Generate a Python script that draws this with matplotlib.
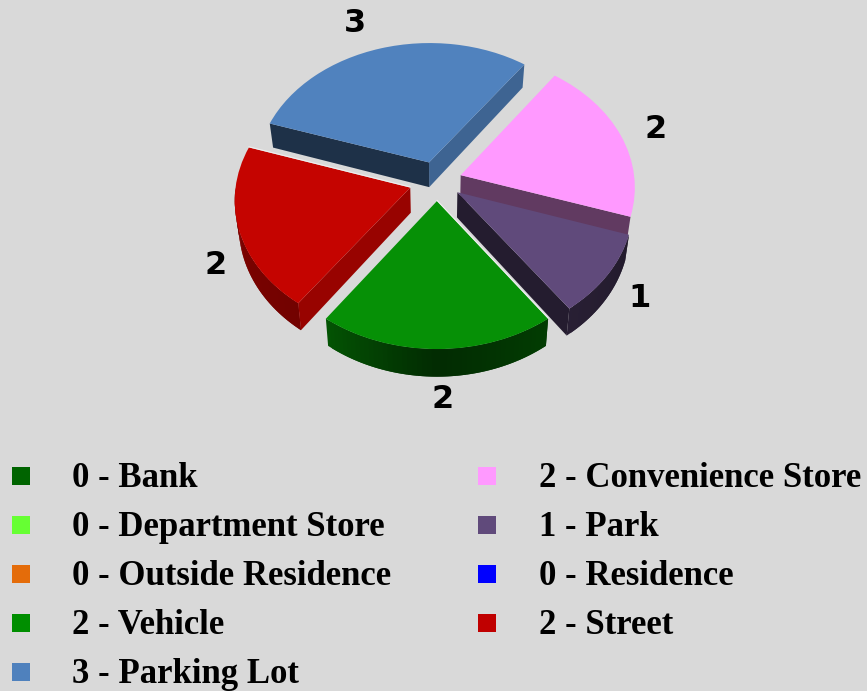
import numpy as np
import matplotlib
matplotlib.use('Agg')
import matplotlib.pyplot as plt
from matplotlib.transforms import Transform

# legend, in reading order
left_names = ['Bank', 'Department Store', 'Outside Residence', 'Vehicle', 'Parking Lot']
left_values = [0, 0, 0, 2, 3]
left_colors = ['#006400', '#66FF33', '#E46C0A', '#008E00', '#4F81BD']
right_names = ['Convenience Store', 'Park', 'Residence', 'Street']
right_values = [2, 1, 0, 2]
right_colors = ['#FF99FF', '#604A7B', '#0000FF', '#C00000']

# slices going counterclockwise from the left edge of the front one
slice_values = [2, 1, 2, 3, 2]
slice_colors = ['#069006', '#604A7B', '#FF99FF', '#5082BE', '#C50400']
draw_order = [3, 4, 2, 1, 0]
slice_explode = [26, 25, 25, 26, 28]

BG = '#D9D9D9'
CX, CY = 437, 181
TILT = 0.76
PERSP = 2095
RADIUS = 174
DEPTH = 25


def project(x, y, z=0):
    k = 1 / (1 + y / PERSP)
    return CX + x * k * (1 - z * 0.0008), CY - TILT * y * k + z * k


class Perspective(Transform):
    input_dims = 2
    output_dims = 2
    is_separable = False
    has_inverse = False

    def transform_non_affine(self, values):
        values = np.asarray(values)
        px, py = project(values[:, 0], values[:, 1])
        return np.column_stack((px, py))


def shade(color, f):
    return tuple(c * f for c in matplotlib.colors.to_rgb(color))


def outer_factor(angle):
    return np.interp(angle % 360, [160, 200, 234, 270, 306, 342, 360],
                     [0.75, 0.62, 0.58, 0.30, 0.42, 0.36, 0.40])


fig = plt.figure(figsize=(8.67, 6.91), dpi=100, facecolor=BG)
ax = fig.add_axes([0, 0, 1, 1])

wedges, _ = ax.pie(slice_values, colors=slice_colors, startangle=234, radius=RADIUS,
                   center=(0, 0), explode=slice_explode, normalize=True)
ax.set_aspect('auto')
ax.set_xlim(0, 867)
ax.set_ylim(691, 0)
ax.axis('off')

persp = Perspective() + ax.transData
STEP = 1.5

for rank, i in enumerate(draw_order):
    w = wedges[i]
    color = slice_colors[i]
    base = 10 + rank * 10
    w.set_transform(persp)
    w.set_zorder(base + 5)
    w.set_linewidth(0)
    x0, y0 = w.center

    # outer rim, cut in short overlapping pieces so that the shade can follow the angle
    for a in np.arange(w.theta1, w.theta2, STEP):
        b = min(a + STEP * 2, w.theta2)
        mid = a + STEP / 2
        if np.sin(np.radians(mid)) >= 0 or mid % 360 > 342:
            continue
        xs = x0 + w.r * np.cos(np.radians([a, b]))
        ys = y0 + w.r * np.sin(np.radians([a, b]))
        p1 = project(xs, ys)
        p2 = project(xs[::-1], ys[::-1], DEPTH)
        c = shade(color, outer_factor(mid))
        ax.fill(np.r_[p1[0], p2[0]], np.r_[p1[1], p2[1]], color=c, lw=0, zorder=base + 1)

    # the two cut faces
    for theta, normal in ((w.theta1, w.theta1 - 90), (w.theta2, w.theta2 + 90)):
        if np.sin(np.radians(normal)) >= 0:
            continue
        f = 0.77 if np.cos(np.radians(normal)) > 0 else 0.38
        xs = np.array([x0, x0 + w.r * np.cos(np.radians(theta))])
        ys = np.array([y0, y0 + w.r * np.sin(np.radians(theta))])
        p1 = project(xs, ys)
        p2 = project(xs[::-1], ys[::-1], DEPTH)
        ax.fill(np.r_[p1[0], p2[0]], np.r_[p1[1], p2[1]], color=shade(color, f),
                lw=0, zorder=base + 2)

# thin light edge where a slice top sits right against the wall of its neighbour
for i, theta in ((4, wedges[4].theta1), (0, wedges[0].theta2)):
    w = wedges[i]
    xs = np.array([w.center[0], w.center[0] + w.r * np.cos(np.radians(theta))])
    ys = np.array([w.center[1], w.center[1] + w.r * np.sin(np.radians(theta))])
    px, py = project(xs, ys)
    ax.plot(px, py - 0.6, color='#EFEFEF', lw=0.8, zorder=80)

# value labels around the pie
label_x = [443, 640, 656, 355, 216]
label_y = [399, 298, 129, 23, 265]
for x, y, v in zip(label_x, label_y, slice_values):
    ax.text(x, y, str(v), ha='center', va='center', fontsize=23, fontweight='bold',
            color='black', family='DejaVu Sans', zorder=100)

# legend
rows = [476, 525, 574, 623, 672]
for swatch_x, text_x, names, values, colors in ((21, 72, left_names, left_values, left_colors),
                                                (487, 539, right_names, right_values, right_colors)):
    for y, name, v, c in zip(rows, names, values, colors):
        ax.scatter([swatch_x], [y], s=150, marker='s', color=c, edgecolors='none', zorder=100)
        ax.text(text_x, y - 1.5, f'{v} - {name}', ha='left', va='center_baseline', fontsize=25,
                fontweight='bold', family='Liberation Serif', color='black', zorder=100)

fig.savefig('out.png', dpi=100, facecolor=BG)
